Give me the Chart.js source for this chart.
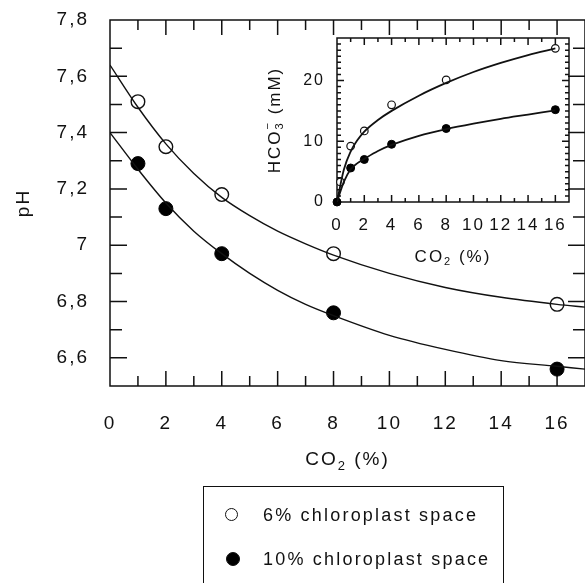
<!DOCTYPE html>
<html>
<head>
<meta charset="utf-8">
<script src="https://cdn.jsdelivr.net/npm/chart.js@4.4.1/dist/chart.umd.min.js"></script>
<style>
  html, body { margin: 0; padding: 0; background: #fff; overflow: hidden; }
  #wrap { position: relative; width: 585px; height: 583px; }
  #mainChart { position: absolute; left: 0; top: 0; }
  #insetChart { position: absolute; left: 250px; top: 25px; }
  #legend {
    position: absolute; left: 203px; top: 486px; width: 301px; height: 130px;
    box-sizing: border-box; border: 1.5px solid #111;
    font: 18px "Liberation Sans", Arial, sans-serif; letter-spacing: 2.2px; color: #111;
  }
  .item { position: absolute; left: 0; height: 22px; line-height: 22px; }
  .item span.txt { position: absolute; left: 59px; white-space: nowrap; }
  .dot {
    position: absolute; left: 21px; top: 4px; width: 11px; height: 11px;
    border-radius: 50%; border: 1.4px solid #111; background: #fff;
  }
  .dot.filled { background: #000; width: 12px; height: 12px; left: 22px; }
</style>
</head>
<body>
<div id="wrap">
  <canvas id="mainChart" width="585" height="583"></canvas>
  <canvas id="insetChart" width="335" height="250"></canvas>
  <div id="legend">
    <div class="item" style="top:17px"><div class="dot"></div><span class="txt">6% chloroplast space</span></div>
    <div class="item" style="top:61px"><div class="dot filled"></div><span class="txt">10% chloroplast space</span></div>
  </div>
</div>
<script>
// main plot: pH vs CO2
const ptX = [1, 2, 4, 8, 16];
const pH6 = [7.51, 7.35, 7.18, 6.97, 6.79];
const pH10 = [7.29, 7.13, 6.97, 6.76, 6.56];

// fitted curves
const fitX = [0, 1, 2, 3, 4, 5, 6, 7, 8, 10, 12, 14, 16, 17];
const fit6 = [7.64, 7.49, 7.36, 7.255, 7.17, 7.105, 7.05, 7.005, 6.965, 6.90, 6.85, 6.815, 6.79, 6.78];
const fit10 = [7.40, 7.27, 7.15, 7.05, 6.97, 6.90, 6.84, 6.79, 6.75, 6.68, 6.63, 6.59, 6.57, 6.56];

const mainXTicks = [0, 2, 4, 6, 8, 10, 12, 14, 16];
const mainYTicks = [6.6, 6.8, 7.0, 7.2, 7.4, 7.6, 7.8];
const mainYLabels = ['6,6', '6,8', '7', '7,2', '7,4', '7,6', '7,8'];

// inset: HCO3- vs CO2
const insetPtX6 = [0.25, 1, 2, 4, 8, 16];
const insetPt6 = [3.3, 9.2, 11.7, 16.0, 20.1, 25.3];
const insetPtX10 = [0, 1, 2, 4, 8, 16];
const insetPt10 = [0, 5.6, 7.0, 9.5, 12.1, 15.2];

const insetFitX = [0, 0.5, 1, 1.5, 2, 3, 4, 6, 8, 10, 12, 14, 16];
const insetFit6 = [0, 5.3, 8.3, 10.2, 11.6, 13.5, 15.0, 17.5, 19.6, 21.4, 22.9, 24.2, 25.3];
const insetFit10 = [0, 3.3, 5.4, 6.4, 7.1, 8.4, 9.4, 10.9, 12.0, 12.9, 13.7, 14.4, 15.1];

const insetXTicks = [0, 2, 4, 6, 8, 10, 12, 14, 16];
const insetYTicks = [0, 10, 20];

const FONT = '"Liberation Sans", Arial, sans-serif';
const INK = '#111';
const SPACING = '2px';

const pts = (xs, ys) => xs.map((x, i) => ({ x: x, y: ys[i] }));

// letter spacing to mimic the wide scanned type
const spacing = {
  id: 'spacing',
  beforeLayout(chart) { chart.ctx.letterSpacing = SPACING; },
  beforeDraw(chart) { chart.ctx.letterSpacing = SPACING; }
};

// keep the plot box exactly where afterFit puts it
function fixX(h) {
  return s => { s.height = h; s.paddingLeft = 0; s.paddingRight = 0; };
}
function fixY(w) {
  return s => { s.width = w; s.paddingTop = 0; s.paddingBottom = 0; };
}

// box frame with inward ticks on all four sides
const frameTicks = {
  id: 'frameTicks',
  beforeDatasetsDraw(chart, args, o) {
    const { ctx, chartArea: a, scales: { x, y } } = chart;
    const isMajor = (v, step) => Math.abs(v / step - Math.round(v / step)) < 1e-6;
    ctx.save();
    ctx.strokeStyle = INK;
    ctx.lineWidth = o.lineWidth;
    ctx.strokeRect(a.left, a.top, a.right - a.left, a.bottom - a.top);
    ctx.beginPath();
    let n = Math.round((x.max - x.min) / o.xMinor);
    for (let i = 1; i < n; i++) {
      const v = x.min + i * o.xMinor;
      const px = x.getPixelForValue(v);
      const len = isMajor(v, o.xMajor) ? o.xMajorLen : o.xMinorLen;
      ctx.moveTo(px, a.bottom); ctx.lineTo(px, a.bottom - len);
      ctx.moveTo(px, a.top); ctx.lineTo(px, a.top + len);
    }
    n = Math.round((y.max - y.min) / o.yMinor);
    for (let i = 1; i < n; i++) {
      const v = y.min + i * o.yMinor;
      const py = y.getPixelForValue(v);
      const len = isMajor(v, o.yMajor) ? o.yMajorLen : o.yMinorLen;
      ctx.moveTo(a.left, py); ctx.lineTo(a.left + len, py);
      ctx.moveTo(a.right, py); ctx.lineTo(a.right - len, py);
    }
    ctx.stroke();
    ctx.restore();
  }
};

// axis titles with sub/superscripts
function drawRich(ctx, parts, size, cx, cy, rot) {
  ctx.save();
  ctx.translate(cx, cy);
  ctx.rotate(rot || 0);
  ctx.fillStyle = INK;
  ctx.textBaseline = 'middle';
  ctx.textAlign = 'left';
  ctx.letterSpacing = SPACING;
  const small = Math.round(size * 0.66);
  let total = 0;
  parts.forEach(p => {
    ctx.font = (p.sub || p.sup ? small : size) + 'px ' + FONT;
    p.w = ctx.measureText(p.t).width;
    if (!p.stack) total += p.w;
  });
  let x = -total / 2;
  parts.forEach(p => {
    ctx.font = (p.sub || p.sup ? small : size) + 'px ' + FONT;
    const dy = p.sub ? size * 0.32 : p.sup ? -size * 0.4 : 0;
    ctx.fillText(p.t, x, dy);
    if (!p.stack) x += p.w;
  });
  ctx.restore();
}

const titles = {
  id: 'titles',
  afterDraw(chart, args, o) {
    const a = chart.chartArea;
    const cx = (a.left + a.right) / 2, cy = (a.top + a.bottom) / 2;
    drawRich(chart.ctx, o.x.parts, o.size, cx, a.bottom + o.x.offset, 0);
    drawRich(chart.ctx, o.y.parts, o.size, a.left - o.y.offset, cy, -Math.PI / 2);
  }
};

function tickFont(size) { return { family: FONT, size: size }; }

new Chart(document.getElementById('mainChart'), {
  type: 'scatter',
  data: {
    datasets: [
      { data: pts(fitX, fit6), showLine: true, pointRadius: 0, borderColor: INK, borderWidth: 1.4, cubicInterpolationMode: 'monotone' },
      { data: pts(fitX, fit10), showLine: true, pointRadius: 0, borderColor: INK, borderWidth: 1.4, cubicInterpolationMode: 'monotone' },
      { data: pts(ptX, pH6), showLine: false, pointRadius: 6.8, pointBackgroundColor: '#fff', pointBorderColor: INK, pointBorderWidth: 1.4 },
      { data: pts(ptX, pH10), showLine: false, pointRadius: 7, pointBackgroundColor: '#000', pointBorderColor: '#000', pointBorderWidth: 1 }
    ]
  },
  options: {
    responsive: false,
    animation: false,
    layout: { autoPadding: false, padding: { top: 20, right: 0, left: 0, bottom: 0 } },
    plugins: {
      legend: { display: false },
      tooltip: { enabled: false },
      frameTicks: { lineWidth: 1.5, xMinor: 1, xMajor: 2, xMinorLen: 10, xMajorLen: 15, yMinor: 0.1, yMajor: 0.2, yMinorLen: 12, yMajorLen: 17 },
      titles: {
        size: 19,
        x: { offset: 74, parts: [{ t: 'CO' }, { t: '2', sub: true }, { t: ' (%)' }] },
        y: { offset: 86, parts: [{ t: 'pH' }] }
      }
    },
    scales: {
      x: {
        type: 'linear', min: 0, max: 17,
        afterFit: fixX(197),
        afterBuildTicks: s => { s.ticks = mainXTicks.map(v => ({ value: v })); },
        grid: { display: false }, border: { display: false },
        ticks: { font: tickFont(19), color: INK, padding: 18, maxRotation: 0, autoSkip: false }
      },
      y: {
        type: 'linear', min: 6.5, max: 7.8,
        afterFit: fixY(110),
        afterBuildTicks: s => { s.ticks = mainYTicks.map(v => ({ value: v })); },
        grid: { display: false }, border: { display: false },
        ticks: {
          font: tickFont(19), color: INK, padding: 13, autoSkip: false,
          callback: (v, i) => mainYLabels[i]
        }
      }
    }
  },
  plugins: [spacing, frameTicks, titles]
});

new Chart(document.getElementById('insetChart'), {
  type: 'scatter',
  data: {
    datasets: [
      { data: pts(insetFitX, insetFit6), showLine: true, pointRadius: 0, borderColor: INK, borderWidth: 1.8, cubicInterpolationMode: 'monotone' },
      { data: pts(insetFitX, insetFit10), showLine: true, pointRadius: 0, borderColor: INK, borderWidth: 1.8, cubicInterpolationMode: 'monotone' },
      { data: pts(insetPtX6, insetPt6), showLine: false, pointRadius: 3.8, pointBackgroundColor: '#fff', pointBorderColor: INK, pointBorderWidth: 1.2, clip: false },
      { data: pts(insetPtX10, insetPt10), showLine: false, pointRadius: 4, pointBackgroundColor: '#000', pointBorderColor: '#000', pointBorderWidth: 1, clip: false }
    ]
  },
  options: {
    responsive: false,
    animation: false,
    layout: { autoPadding: false, padding: { top: 13, right: 16, left: 0, bottom: 0 } },
    plugins: {
      legend: { display: false },
      tooltip: { enabled: false },
      frameTicks: { lineWidth: 1.5, xMinor: 1, xMajor: 2, xMinorLen: 4, xMajorLen: 7, yMinor: 1, yMajor: 10, yMinorLen: 4, yMajorLen: 7 },
      titles: {
        size: 17,
        x: { offset: 55, parts: [{ t: 'CO' }, { t: '2', sub: true }, { t: ' (%)' }] },
        y: { offset: 62, parts: [{ t: 'HCO' }, { t: '3', sub: true, stack: true }, { t: '\u2212', sup: true }, { t: ' (mM)' }] }
      }
    },
    scales: {
      x: {
        type: 'linear', min: 0, max: 17,
        afterFit: fixX(73),
        afterBuildTicks: s => { s.ticks = insetXTicks.map(v => ({ value: v })); },
        grid: { display: false }, border: { display: false },
        ticks: { font: tickFont(17), color: INK, padding: 5, maxRotation: 0, autoSkip: false }
      },
      y: {
        type: 'linear', min: 0, max: 27,
        afterFit: fixY(87),
        afterBuildTicks: s => { s.ticks = insetYTicks.map(v => ({ value: v })); },
        grid: { display: false }, border: { display: false },
        ticks: { font: tickFont(16), color: INK, padding: 4, autoSkip: false }
      }
    }
  },
  plugins: [spacing, frameTicks, titles]
});
</script>
</body>
</html>
